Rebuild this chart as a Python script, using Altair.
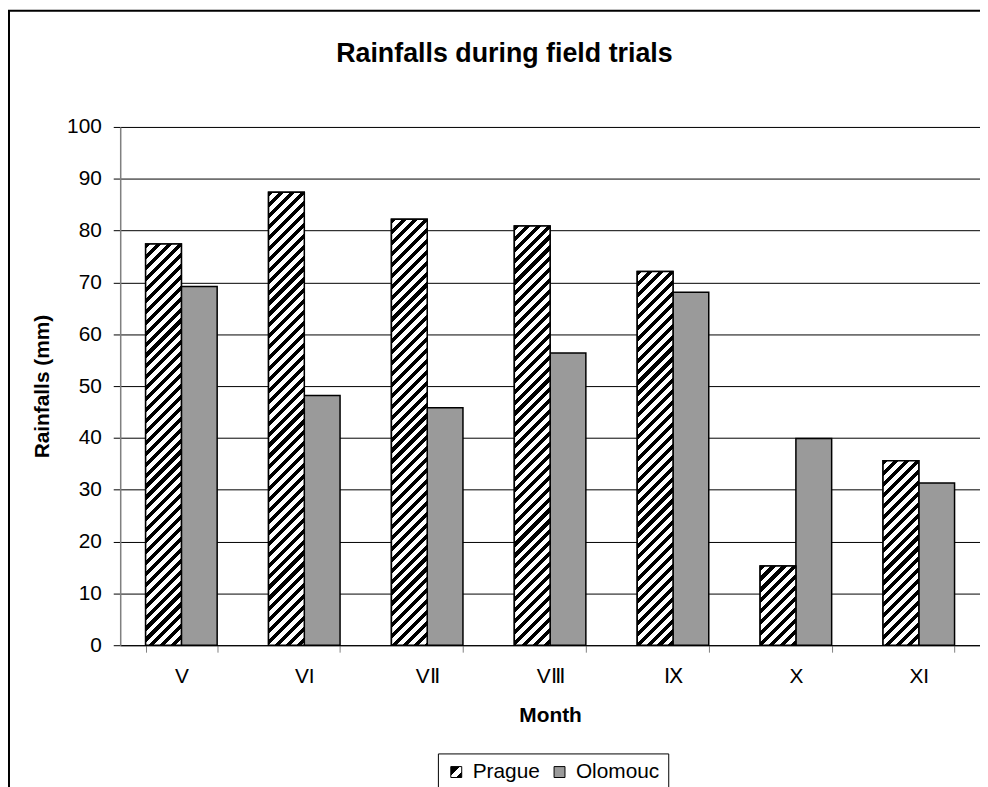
import altair as alt
import pandas as pd

# ---- data ----
months = ["V", "VI", "VⅡ", "VⅢ", "Ⅸ", "X", "XI"]
cities = ["Prague", "Olomouc"]
prague = [77.4, 87.4, 82.2, 80.9, 72.1, 15.3, 35.6]
olomouc = [69.2, 48.2, 45.8, 56.4, 68.1, 39.9, 31.3]
y_ticks = list(range(0, 101, 10))

title_text = "Rainfalls during field trials"
x_title = "Month"
y_title = "Rainfalls (mm)"

# ---- layout constants ----
PLOT_W = 866
PLOT_H = 522
PAD_IN = 0.418
PAD_OUT = 0.207
FONT = "Liberation Sans"

rows = []
for m, p, o in zip(months, prague, olomouc):
    rows.append({"month": m, "city": "Prague", "value": p})
    rows.append({"month": m, "city": "Olomouc", "value": o})
df = pd.DataFrame(rows)

step = PLOT_W / (len(months) - PAD_IN + 2 * PAD_OUT)
bar_w = step * (1 - PAD_IN) / 2


def stripe_gradient(w, h, period=11.0, black=0.47):
    """Diagonal '/' stripes of constant pixel spacing inside a w x h rect."""
    r = h / w
    L = w + h * h / w
    stops = []
    s = 0.0
    while s < w + h + period:
        t0 = min(s / L, 1.0)
        t1 = min((s + black * period) / L, 1.0)
        t2 = min((s + period) / L, 1.0)
        stops += [(t0, "black"), (t1, "black"), (t1, "white"), (t2, "white")]
        s += period
    return {
        "gradient": "linear",
        "x1": 0, "y1": 0, "x2": 1, "y2": r,
        "stops": [{"offset": round(o, 6), "color": c} for o, c in stops],
    }


legend_prague = ("{gradient: 'linear', x1: 0, y1: 0, x2: 1, y2: 1, stops: ["
                 "{offset: 0, color: 'black'}, {offset: 0.42, color: 'black'},"
                 "{offset: 0.42, color: 'white'}, {offset: 0.72, color: 'white'},"
                 "{offset: 0.72, color: 'black'}, {offset: 1, color: 'black'}]}")

x_enc = alt.X(
    "month:N", sort=months,
    scale=alt.Scale(paddingInner=PAD_IN, paddingOuter=PAD_OUT),
    axis=alt.Axis(
        title=x_title, labelAngle=0, tickBand="extent", tickSize=7,
        tickColor="#808080", tickWidth=1, domainColor="black", domainWidth=1,
        labelFontSize=21, labelBaseline="alphabetic", labelPadding=31,
        labelFont=FONT, labelColor="black",
        titleFontSize=21, titleFont=FONT, titleFontWeight="bold", titleColor="black",
        titleY=77, titleBaseline="alphabetic", grid=False,
    ),
)
xo_enc = alt.XOffset("city:N", sort=cities,
                     scale=alt.Scale(domain=cities, paddingInner=0, paddingOuter=0))
y_enc = alt.Y(
    "value:Q", stack=None,
    scale=alt.Scale(domain=[0, 100], nice=False),
    axis=alt.Axis(
        values=y_ticks, title=y_title, tickSize=7, tickColor="black", tickWidth=1,
        domainColor="#808080", domainWidth=1.5, grid=True, gridColor="black",
        gridWidth=1, labelFontSize=21, labelPadding=12, labelFont=FONT,
        labelColor="black", titleFontSize=21, titleFont=FONT,
        titleFontWeight="bold", titleColor="black", titleAngle=270,
        titleX=-78, titleY=PLOT_H / 2, titleAlign="center", titleBaseline="middle",
    ),
)

base = alt.Chart(df).mark_bar(stroke="black", strokeWidth=1.5).encode(
    x=x_enc, xOffset=xo_enc, y=y_enc,
    fill=alt.Fill(
        "city:N", sort=cities,
        scale=alt.Scale(domain=cities, range=[alt.ExprRef(expr=legend_prague), "#9a9a9a"]),
        legend=alt.Legend(
            title=None, orient="none", legendX=320, legendY=631,
            direction="horizontal", labelFontSize=21, labelFont=FONT,
            labelColor="black", symbolType="square", symbolSize=121,
            symbolStrokeColor="black", symbolStrokeWidth=1, symbolOpacity=1,
            strokeColor="black", fillColor="white", padding=8,
            columnPadding=9, labelOffset=6,
        ),
    ),
)

layers = [base]
for m, p in zip(months, prague):
    h = p / 100 * PLOT_H
    layers.append(
        alt.Chart(df).transform_filter(
            alt.FieldEqualPredicate(field="month", equal=m)
        ).transform_filter(
            alt.FieldEqualPredicate(field="city", equal="Prague")
        ).mark_bar(fill=stripe_gradient(bar_w, h), stroke="black", strokeWidth=1.5)
        .encode(x=x_enc, xOffset=xo_enc, y=y_enc)
    )

frame = alt.Chart(pd.DataFrame({"k": [0]})).mark_rect(
    fillOpacity=0, stroke="black", strokeWidth=2
).encode(
    x=alt.value(-112), x2=alt.value(PLOT_W + 20),
    y=alt.value(-117), y2=alt.value(PLOT_H + 300),
)
layers.append(frame)

chart = alt.layer(*layers).properties(
    width=PLOT_W, height=PLOT_H,
    autosize=alt.AutoSizeParams(type="none"),
    padding={"left": 113, "top": 117, "right": 0, "bottom": 140},
    title=alt.TitleParams(
        text=title_text, font=FONT, fontSize=27, fontWeight="bold", color="black",
        anchor="middle", frame="group", dx=-46, dy=80, offset=0,
        baseline="alphabetic",
    ),
).configure_view(stroke=None).configure(background="white")

chart.save("out.html", embed_options={"renderer": "svg", "actions": False})
